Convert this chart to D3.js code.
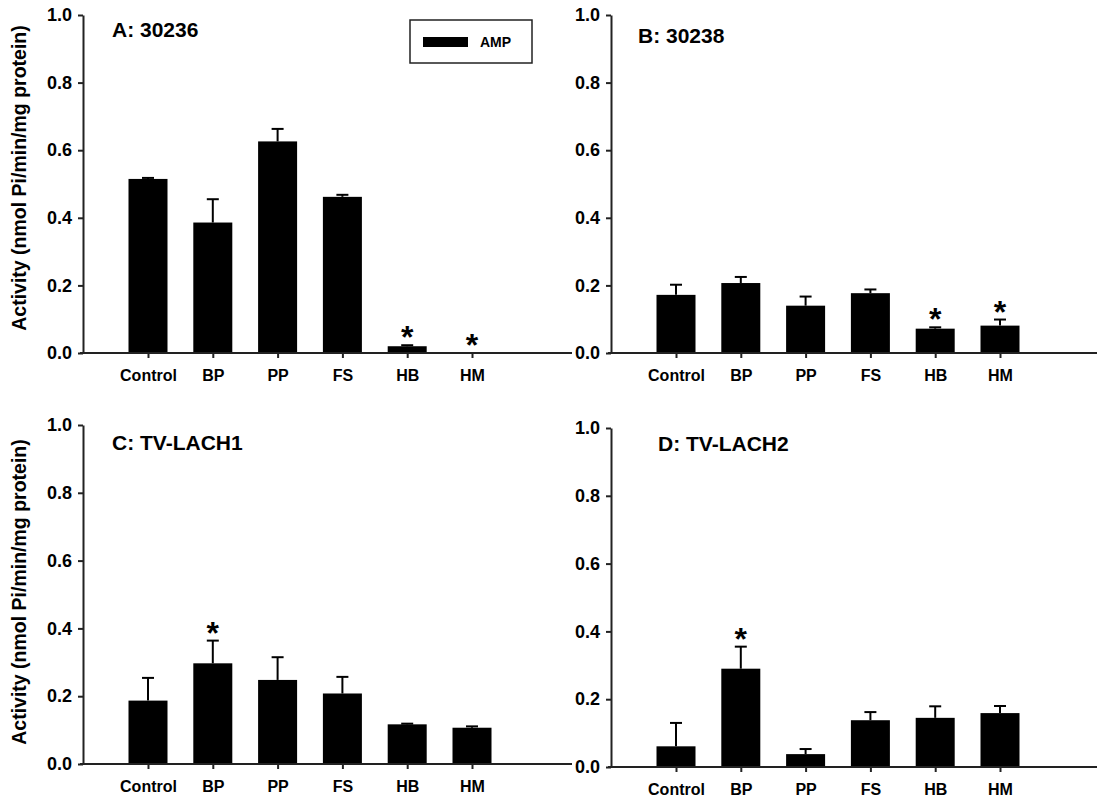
<!DOCTYPE html>
<html>
<head>
<meta charset="utf-8">
<script src="https://cdn.jsdelivr.net/npm/d3@7"></script>
<style>
    body { margin: 0; background: #fff; }
    text { font-family: "Liberation Sans", Arial, sans-serif; font-weight: bold; fill: #000; }
</style>
</head>
<body>
<div id="chart"></div>
<script>
// categories shared by all four panels
let categories = ["Control", "BP", "PP", "FS", "HB", "HM"];
let yTicks = [0, 0.2, 0.4, 0.6, 0.8, 1.0];

// A: 30236
let meansA = [0.515, 0.386, 0.626, 0.462, 0.020, 0.0];
let errA = [0.003, 0.069, 0.037, 0.006, 0.003, 0.0];
let starsA = [false, false, false, false, true, true];

// B: 30238
let meansB = [0.172, 0.207, 0.140, 0.177, 0.072, 0.081];
let errB = [0.030, 0.018, 0.027, 0.011, 0.004, 0.018];
let starsB = [false, false, false, false, true, true];

// C: TV-LACH1
let meansC = [0.187, 0.297, 0.248, 0.208, 0.117, 0.107];
let errC = [0.067, 0.067, 0.067, 0.049, 0.002, 0.004];
let starsC = [false, true, false, false, false, false];

// D: TV-LACH2
let meansD = [0.061, 0.290, 0.038, 0.138, 0.145, 0.159];
let errD = [0.069, 0.065, 0.015, 0.024, 0.034, 0.021];
let starsD = [false, true, false, false, false, false];

function init() {
    const w = 1097;
    const h = 799;

    var svg = d3.select("#chart")
        .append("svg")
        .attr("width", w)
        .attr("height", h);

    var panels = [
        { title: "A: 30236", means: meansA, err: errA, stars: starsA, ax: 83, top: 15, bottom: 353, xEnd: 572, tx: 112, ty: 37, yTitleC: 178 },
        { title: "B: 30238", means: meansB, err: errB, stars: starsB, ax: 611, top: 15, bottom: 353, xEnd: 1097, tx: 638, ty: 43, yTitleC: null },
        { title: "C: TV-LACH1", means: meansC, err: errC, stars: starsC, ax: 83, top: 425, bottom: 764, xEnd: 572, tx: 112, ty: 450, yTitleC: 592 },
        { title: "D: TV-LACH2", means: meansD, err: errD, stars: starsD, ax: 611, top: 428, bottom: 767, xEnd: 1097, tx: 658, ty: 451, yTitleC: null }
    ];

    const step = 64.8;
    const barW = 39;

    panels.forEach(function (p) {
        var g = svg.append("g");

        var x = d3.scalePoint()
            .domain(categories)
            .range([p.ax + 65, p.ax + 65 + 5 * step]);

        var y = d3.scaleLinear()
            .domain([0, 1])
            .range([p.bottom, p.top]);

        var rows = categories.map(function (c, i) {
            return { cat: c, mean: p.means[i], err: p.err[i], star: p.stars[i] };
        });

        // bars
        g.selectAll("rect.bar")
            .data(rows.filter(function (d) { return d.mean > 0; }))
            .enter()
            .append("rect")
            .attr("class", "bar")
            .attr("x", function (d) { return x(d.cat) - barW / 2; })
            .attr("y", function (d) { return y(d.mean); })
            .attr("width", barW)
            .attr("height", function (d) { return y(0) - y(d.mean); })
            .attr("fill", "#000");

        // error bars (upper only)
        var eb = g.selectAll("g.err")
            .data(rows.filter(function (d) { return d.err > 0; }))
            .enter()
            .append("g")
            .attr("class", "err");
        eb.append("line")
            .attr("x1", function (d) { return x(d.cat); })
            .attr("x2", function (d) { return x(d.cat); })
            .attr("y1", function (d) { return y(d.mean); })
            .attr("y2", function (d) { return y(d.mean + d.err); })
            .attr("stroke", "#000")
            .attr("stroke-width", 2);
        eb.append("line")
            .attr("x1", function (d) { return x(d.cat) - 6; })
            .attr("x2", function (d) { return x(d.cat) + 6; })
            .attr("y1", function (d) { return y(d.mean + d.err); })
            .attr("y2", function (d) { return y(d.mean + d.err); })
            .attr("stroke", "#000")
            .attr("stroke-width", 2);

        // significance stars
        g.selectAll("text.star")
            .data(rows.filter(function (d) { return d.star; }))
            .enter()
            .append("text")
            .attr("class", "star")
            .attr("x", function (d) { return x(d.cat); })
            .attr("y", function (d) { return y(d.mean + d.err) + 3; })
            .attr("text-anchor", "middle")
            .style("font-size", "32px")
            .text("*");

        // y axis
        var yAxis = g.append("g")
            .attr("transform", "translate(" + p.ax + ",0)")
            .call(d3.axisLeft(y)
                .tickValues(yTicks)
                .tickFormat(d3.format(".1f"))
                .tickSize(5)
                .tickSizeOuter(0)
                .tickPadding(6));
        yAxis.select(".domain").attr("stroke", "#222").attr("stroke-width", 2);
        yAxis.selectAll(".tick line").attr("stroke", "#222").attr("stroke-width", 2);
        yAxis.selectAll(".tick text").style("font-size", "18px").attr("fill", "#000");

        // x axis
        var xAxis = g.append("g")
            .attr("transform", "translate(0," + p.bottom + ")")
            .call(d3.axisBottom(x)
                .tickSize(5)
                .tickSizeOuter(0)
                .tickPadding(12));
        xAxis.select(".domain").remove();
        xAxis.selectAll(".tick line").attr("stroke", "#222").attr("stroke-width", 2);
        xAxis.selectAll(".tick text").style("font-size", "16px").attr("fill", "#000");
        g.append("line")
            .attr("x1", p.ax - 3)
            .attr("x2", p.xEnd)
            .attr("y1", p.bottom)
            .attr("y2", p.bottom)
            .attr("stroke", "#222")
            .attr("stroke-width", 2);

        // panel title
        g.append("text")
            .attr("x", p.tx)
            .attr("y", p.ty)
            .style("font-size", "21px")
            .text(p.title);

        if (p.yTitleC !== null) {
            g.append("text")
                .attr("transform", "translate(26," + p.yTitleC + ") rotate(-90)")
                .attr("text-anchor", "middle")
                .style("font-size", "19.5px")
                .text("Activity (nmol Pi/min/mg protein)");
        }
    });

    // legend
    var legend = svg.append("g");
    legend.append("rect")
        .attr("x", 410)
        .attr("y", 20)
        .attr("width", 122)
        .attr("height", 43)
        .attr("fill", "#fff")
        .attr("stroke", "#222")
        .attr("stroke-width", 1.5);
    legend.append("rect")
        .attr("x", 423)
        .attr("y", 37)
        .attr("width", 45)
        .attr("height", 10)
        .attr("fill", "#000");
    legend.append("text")
        .attr("x", 480)
        .attr("y", 47)
        .style("font-size", "14px")
        .text("AMP");
}

window.onload = init;
</script>
</body>
</html>
